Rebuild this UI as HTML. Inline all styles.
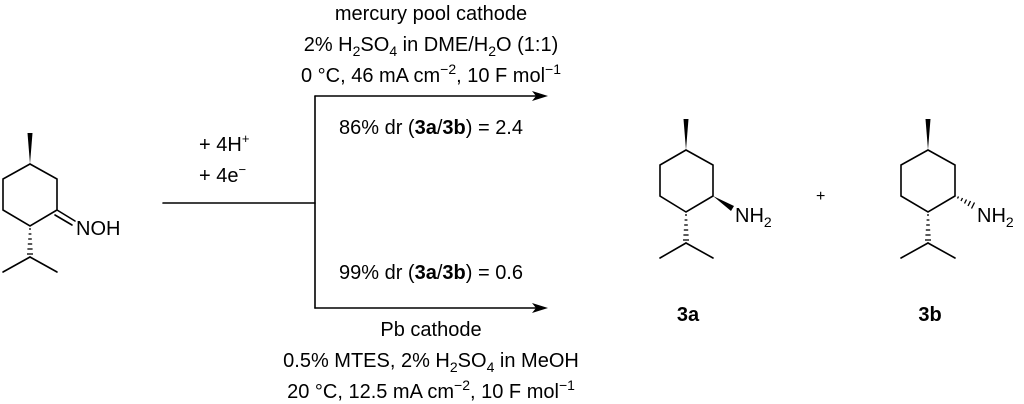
<!DOCTYPE html>
<html><head><meta charset="utf-8"><style>
html,body{margin:0;padding:0;background:#fff;}
svg{display:block;font-family:"Liberation Sans",Arial,sans-serif;}
</style></head><body>
<svg width="1024" height="404" viewBox="0 0 1024 404" xmlns="http://www.w3.org/2000/svg">
<g stroke="#000" stroke-width="1.6" fill="none" stroke-linecap="round">
<polyline points="30,164 57,179 57,210 30,226 3,210 3,179 30,164"/>
<line x1="57" y1="210" x2="75" y2="221"/>
<line x1="55" y1="215" x2="72" y2="225"/>
<line x1="3" y1="272" x2="30" y2="257"/><line x1="30" y1="257" x2="57" y2="272"/>
<polyline points="686,150 713,165 713,196 686,212 660,196 660,165 686,150"/>
<line x1="660" y1="258" x2="686" y2="243"/><line x1="686" y1="243" x2="713" y2="258"/>
<polyline points="928,150 955,165 955,196 928,212 901,196 901,165 928,150"/>
<line x1="901" y1="258" x2="928" y2="243"/><line x1="928" y1="243" x2="955" y2="258"/>
<line x1="163" y1="203" x2="315" y2="203"/>
<line x1="315" y1="96" x2="315" y2="308"/>
<line x1="315" y1="96" x2="538" y2="96"/>
<line x1="315" y1="308" x2="538" y2="308"/>
</g>
<g fill="#000">
<polygon points="548,96 532,91 536,96 532,101"/>
<polygon points="548,308 532,303 536,308 532,313"/>
<polygon points="30,164 27.5,133 32.5,133"/>
<polygon points="686,150 683.5,119 688.5,119"/>
<polygon points="928,150 925.5,119 930.5,119"/>
<polygon points="713,196 734,206 731,211"/>
</g>
<g stroke="#000" stroke-width="1.3">
<line x1="29" y1="229" x2="31" y2="229"/><line x1="28.6" y1="234" x2="31.4" y2="234"/><line x1="28.2" y1="239" x2="31.8" y2="239"/><line x1="27.8" y1="244" x2="32.2" y2="244"/><line x1="27.4" y1="249" x2="32.6" y2="249"/><line x1="27" y1="254" x2="33" y2="254"/>
<line x1="685" y1="215" x2="687" y2="215"/><line x1="684.6" y1="220" x2="687.4" y2="220"/><line x1="684.2" y1="225" x2="687.8" y2="225"/><line x1="683.8" y1="230" x2="688.2" y2="230"/><line x1="683.4" y1="235" x2="688.6" y2="235"/><line x1="683" y1="240" x2="689" y2="240"/>
<line x1="927" y1="215" x2="929" y2="215"/><line x1="926.6" y1="220" x2="929.4" y2="220"/><line x1="926.2" y1="225" x2="929.8" y2="225"/><line x1="925.8" y1="230" x2="930.2" y2="230"/><line x1="925.4" y1="235" x2="930.6" y2="235"/><line x1="925" y1="240" x2="931" y2="240"/>
<line x1="958.5" y1="196.5" x2="957.5" y2="198.5"/><line x1="962.5" y1="198" x2="961" y2="201"/><line x1="966.5" y1="199.5" x2="964.5" y2="203.5"/><line x1="970.5" y1="201" x2="968" y2="206"/><line x1="974.5" y1="202.5" x2="971.5" y2="208.5"/>
</g>
<g font-size="20" fill="#000">
<text x="76" y="235">NOH</text>
<text x="735" y="222">NH<tspan font-size="14" dy="5">2</tspan></text>
<text x="977" y="222">NH<tspan font-size="14" dy="5">2</tspan></text>
<text x="816" y="201" font-size="16">+</text>
<text x="688" y="321" font-weight="bold" text-anchor="middle">3a</text>
<text x="930" y="321" font-weight="bold" text-anchor="middle">3b</text>
<text x="199" y="151">+ 4H<tspan font-size="13" dy="-8">+</tspan></text>
<text x="199" y="182">+ 4e<tspan font-size="13" dy="-8">−</tspan></text>
<g text-anchor="middle">
<text x="431" y="20">mercury pool cathode</text>
<text x="431" y="51">2% H<tspan font-size="14" dy="5">2</tspan><tspan dy="-5">SO</tspan><tspan font-size="14" dy="5">4</tspan><tspan dy="-5"> in DME/H</tspan><tspan font-size="14" dy="5">2</tspan><tspan dy="-5">O (1:1)</tspan></text>
<text x="431" y="82">0 °C, 46 mA cm<tspan font-size="14" dy="-8">−2</tspan><tspan dy="8">, 10 F mol</tspan><tspan font-size="14" dy="-8">−1</tspan></text>
<text x="431" y="134">86% dr (<tspan font-weight="bold">3a</tspan>/<tspan font-weight="bold">3b</tspan>) = 2.4</text>
<text x="431" y="279">99% dr (<tspan font-weight="bold">3a</tspan>/<tspan font-weight="bold">3b</tspan>) = 0.6</text>
<text x="431" y="336">Pb cathode</text>
<text x="431" y="367">0.5% MTES, 2% H<tspan font-size="14" dy="5">2</tspan><tspan dy="-5">SO</tspan><tspan font-size="14" dy="5">4</tspan><tspan dy="-5"> in MeOH</tspan></text>
<text x="431" y="398">20 °C, 12.5 mA cm<tspan font-size="14" dy="-8">−2</tspan><tspan dy="8">, 10 F mol</tspan><tspan font-size="14" dy="-8">−1</tspan></text>
</g>
</g>
</svg>
</body></html>
